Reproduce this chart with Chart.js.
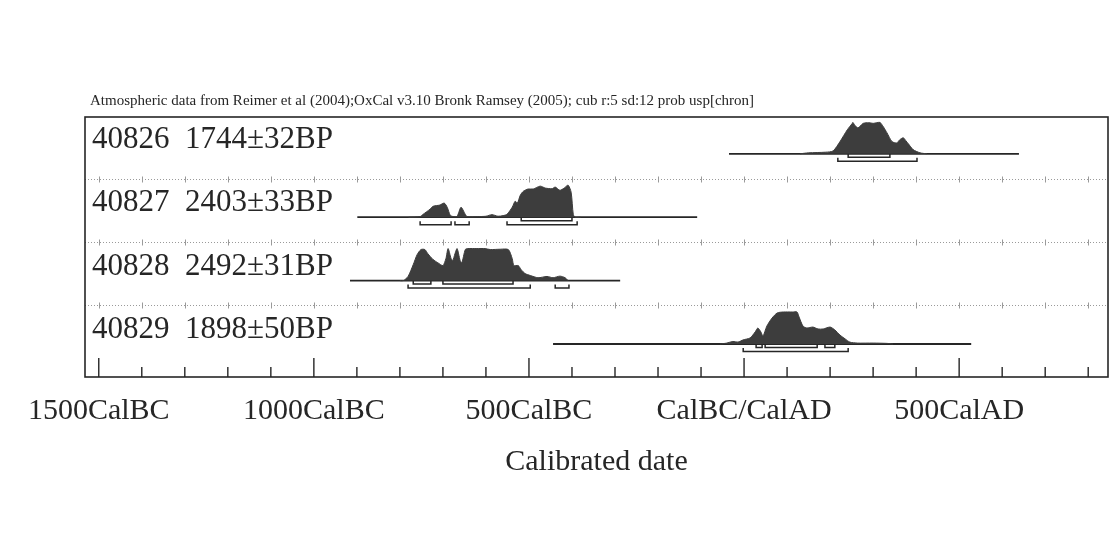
<!DOCTYPE html>
<html>
<head>
<meta charset="utf-8">
<script src="https://cdn.jsdelivr.net/npm/chart.js@4.4.0/dist/chart.umd.min.js"></script>
<style>
html,body{margin:0;padding:0;background:#fff}
</style>
</head>
<body>
<canvas id="chart" width="1120" height="553"></canvas>
<script>

/* ---------------- DATA ---------------- */

const header = "Atmospheric data from Reimer et al (2004);OxCal v3.10 Bronk Ramsey (2005); cub r:5 sd:12 prob usp[chron]"
const sampleLabels = ["40826  1744\u00b132BP","40827  2403\u00b133BP","40828  2492\u00b131BP","40829  1898\u00b150BP"]

// calendar year (negative = BC) and relative probability (0-100)
const years40826 = [130,150,190,207,223,240,251,253,258,265,277,290,300,309,316,324,332,344,355,362,370,376,382,393,409,425]
const prob40826  = [0,3,5,9,38,75,94,98,88,81,95,97,95,97,98,84,66,38,34,44,50,41,31,13,3,0]

const years40827 = [-780,-753,-746,-730,-723,-707,-697,-690,-683,-676,-667,-658,-648,-644,-620,-600,-586,-572,-560,-551,-539,-532,-527,-520,-513,-502,-490,-474,-462,-446,-439,-428,-418,-409,-402,-397,-393,-380]
const prob40827  = [0,2,9,25,34,38,44,31,6,2,3,31,9,2,2,3,8,3,5,9,31,50,44,69,81,88,88,97,91,89,94,84,91,100,78,9,0,0]

const years40828 = [-800,-792,-781,-769,-760,-751,-742,-735,-723,-712,-700,-693,-688,-681,-677,-672,-667,-660,-656,-648,-642,-621,-602,-590,-567,-548,-539,-535,-525,-518,-509,-497,-479,-458,-444,-428,-416,-409]
const prob40828  = [0,0,13,50,81,97,97,84,66,56,47,69,100,69,63,84,100,63,56,97,100,100,100,97,98,97,69,47,47,34,22,16,9,13,9,14,9,0]

const years40829 = [-56,-40,-26,-14,-2,14,26,32,39,44,53,65,77,91,112,123,128,137,146,160,172,184,200,211,223,235,246,263,300,332,346]
const prob40829  = [0,3,8,6,13,19,38,50,38,25,56,81,97,100,100,100,84,56,50,53,47,47,53,44,28,16,6,3,3,2,0]

// plotted span of each calibration
const spans = [[-35,639],[-899,-109],[-916,-288],[-444,528]]

// 68.2% and 95.4% ranges
const range68 = [[[242,339]],[[-518,-400]],[[-769,-728],[-700,-537]],[[28,42],[49,170],[188,211]]]
const range95 = [[[218,402]],[[-753,-681],[-672,-639],[-551,-388]],[[-781,-497],[-439,-407]],[[-2,242]]]

const tickYears = [-1500,-1000,-500,0,500]
const tickNames = ["1500CalBC","1000CalBC","500CalBC","CalBC/CalAD","500CalAD"]

/* ---------------- BUILD ---------------- */

const ink = "#262626"
const fillGrey = "#3d3d3d"
const serif = "'Liberation Serif', 'Times New Roman', serif"

const rowBase = [3.52,2.52,1.52,0.52]
const peak = 0.505
const px = 1/63.41

const allYears = [years40826,years40827,years40828,years40829]
const allProb = [prob40826,prob40827,prob40828,prob40829]

const datasets = []

allYears.forEach((yrs,i)=>{
datasets.push({
data: yrs.map((y,k)=>({x:y, y:rowBase[i] + allProb[i][k]/100*peak})),
borderColor:fillGrey,
backgroundColor:fillGrey,
borderWidth:1,
pointRadius:0,
tension:0.25,
fill:{value:rowBase[i]}
})
})

spans.forEach((s,i)=>{
datasets.push({
data:[{x:s[0],y:rowBase[i]},{x:s[1],y:rowBase[i]}],
borderColor:ink,
borderWidth:1.8,
pointRadius:0,
fill:false
})
})

function bracketData(ranges,base,top,bottom){
let pts=[]
ranges.forEach(r=>{
pts.push({x:r[0],y:base+top},{x:r[0],y:base+bottom},{x:r[1],y:base+bottom},{x:r[1],y:base+top},{x:r[1],y:null})
})
return pts
}

range68.forEach((r,i)=>{
datasets.push({
data:bracketData(r,rowBase[i],0,-3.5*px),
borderColor:ink,
borderWidth:1.5,
pointRadius:0,
spanGaps:false,
fill:false
})
})

range95.forEach((r,i)=>{
datasets.push({
data:bracketData(r,rowBase[i],-4*px,-7.5*px),
borderColor:ink,
borderWidth:1.5,
pointRadius:0,
spanGaps:false,
fill:false
})
})

/* ---------------- FRAME, TICKS, TEXT ---------------- */

const oxcalFrame = {
id:"oxcalFrame",
beforeDatasetsDraw(chart){
const {ctx, chartArea:a, scales:{x,y}} = chart
ctx.save()
ctx.strokeStyle = "#9a9a9a"
ctx.lineWidth = 1
;[1.13,2.13,3.13].forEach(v=>{
const py = Math.round(y.getPixelForValue(v))+0.5
ctx.setLineDash([1,2])
ctx.beginPath()
ctx.moveTo(a.left,py)
ctx.lineTo(a.right,py)
ctx.stroke()
ctx.setLineDash([])
for(let yr=-1500; yr<=800; yr+=100){
const pxx = Math.round(x.getPixelForValue(yr))+0.5
ctx.beginPath()
ctx.moveTo(pxx,py-3)
ctx.lineTo(pxx,py+3)
ctx.stroke()
}
})
ctx.restore()
},
afterDraw(chart){
const {ctx, chartArea:a, scales:{x,y}} = chart
ctx.save()
ctx.strokeStyle = ink
ctx.lineWidth = 1.6
ctx.strokeRect(a.left,a.top,a.right-a.left,a.bottom-a.top)

ctx.lineWidth = 1.4
for(let yr=-1500; yr<=800; yr+=100){
const pxx = x.getPixelForValue(yr)
const len = yr%500===0 ? 19 : 10
ctx.beginPath()
ctx.moveTo(pxx,a.bottom)
ctx.lineTo(pxx,a.bottom-len)
ctx.stroke()
}

ctx.fillStyle = ink
ctx.textBaseline = "alphabetic"
ctx.textAlign = "left"
ctx.font = "15px " + serif
ctx.fillText(header,90,105)

ctx.font = "31px " + serif
sampleLabels.forEach((t,i)=>{
ctx.fillText(t,92,y.getPixelForValue(rowBase[i])-6)
})
ctx.restore()
}
}

/* ---------------- CHART ---------------- */

new Chart(document.getElementById("chart"),{
type:"line",
data:{datasets:datasets},
options:{
responsive:false,
animation:false,
layout:{padding:{left:85,right:12,top:117,bottom:0}},
plugins:{legend:{display:false},tooltip:{enabled:false}},
scales:{
x:{
type:"linear",
min:-1532,
max:846,
grid:{display:false,drawTicks:false},
border:{display:false},
ticks:{
stepSize:100,
autoSkip:false,
maxRotation:0,
includeBounds:false,
padding:16,
color:ink,
font:{family:serif,size:30},
callback:v=>{
const i = tickYears.indexOf(v)
return i<0 ? "" : tickNames[i]
}
},
title:{display:true,text:"Calibrated date",color:ink,font:{family:serif,size:30},padding:{top:4,bottom:73}},
afterFit:s=>{ s.height = 176 }
},
y:{
display:false,
min:0,
max:4.1
}
}
},
plugins:[oxcalFrame]
})

</script>
</body>
</html>
